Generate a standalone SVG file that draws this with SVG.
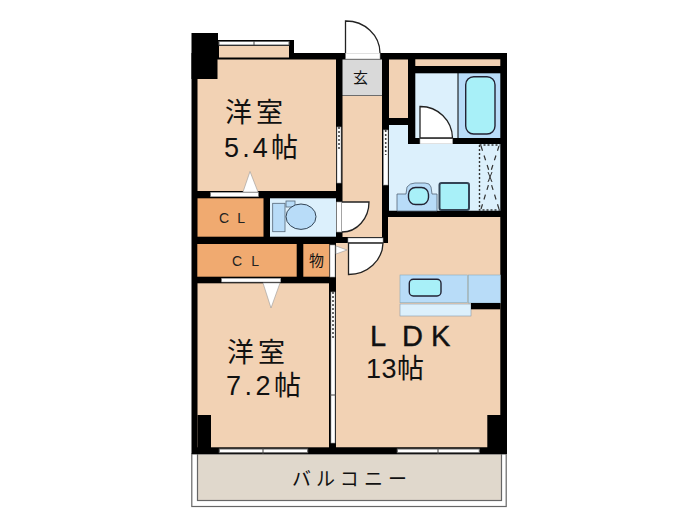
<svg xmlns="http://www.w3.org/2000/svg" width="700" height="525" viewBox="0 0 700 525">
<style>
.w{fill:#000}.p{fill:#f2d2b4}.o{fill:#f0aa70}.l{fill:#dcf0fc}.b{fill:#b8dcf8}.c{fill:#a8f0f8;stroke:#223;stroke-width:1.4}
.d{fill:#fff;stroke:#222;stroke-width:1.3}.s{fill:#fff;stroke:#999;stroke-width:.6}.win{fill:#fff;stroke:#666;stroke-width:1}
.dash{stroke:#444;stroke-width:1.6;stroke-dasharray:2 2;fill:none}
.mull{stroke:#444;stroke-width:1;fill:none}
text{font-family:"Liberation Sans","Noto Sans CJK JP",sans-serif;fill:#111}
.big{font-size:27px}.lat{font-size:29px;stroke:#111;stroke-width:.4}
.sm{font-size:14px;fill:#222}
.cjk{font-family:"Noto Sans CJK JP",sans-serif}
</style>
<rect width="700" height="525" fill="#fff"/>
<g id="balcony"><rect x="191.800" y="454" width="314.400" height="52.500" fill="#fff" stroke="#666" stroke-width="1.200"/><rect x="197.500" y="454" width="304" height="46.500" fill="#e0d8cc" stroke="#666" stroke-width="1.200"/>
<text class="cjk" x="292" y="486" font-size="19" textLength="115" lengthAdjust="spacing" fill="#333">バルコニー</text></g>
<g id="walls">
<rect class="w" x="191.500" y="53" width="315.500" height="401"/>
<rect class="w" x="191.500" y="33" width="26.500" height="46"/>
<rect class="w" x="218" y="40" width="76" height="20"/>
</g>
<g id="room1"><path class="p" d="M197.500 79H217.500V59.500H336V191H197.500Z"/><rect class="p" x="219" y="46" width="70" height="11.500"/><rect class="win" x="219" y="41.500" width="70" height="3.500"/><path class="mull" d="M254 41V45"/>
<rect class="s" x="337" y="127" width="4" height="56"/><path class="dash" d="M339 127V150"/>
<rect class="s" x="210.700" y="192.300" width="47.600" height="4.400"/><path class="s" d="M250 171.500L243 192H258Z"/>
<text class="big cjk" x="225" y="122" textLength="58">洋室</text><text class="big" x="224" y="157" textLength="74" lengthAdjust="spacing">5.4帖</text></g>
<g id="entry"><rect x="342.500" y="59.500" width="39.500" height="36" fill="#d9d9d9"/><rect class="p" x="342.500" y="96" width="39.500" height="141"/>
<text class="cjk" x="353" y="83" font-size="15">玄</text>
<rect class="s" x="345.700" y="53" width="34.300" height="6"/><path class="d" d="M345.500 53V21A34 32 0 0 1 380 53"/></g>
<g id="closet"><rect class="p" x="389" y="59.500" width="19" height="58.500"/><rect class="p" x="415.300" y="59.300" width="85" height="6.700"/></g>
<g id="bath"><rect class="l" x="415.300" y="73.300" width="42.200" height="64.700"/><rect class="b" x="458.500" y="73.300" width="41.800" height="64.700"/><rect class="c" x="465.700" y="76.700" width="29.300" height="57.300" rx="8"/>
<rect class="s" x="420" y="138.300" width="32.700" height="5.700"/><path class="d" d="M420 138V106.500A32 32 0 0 1 452.500 138Z"/></g>
<g id="wash"><path class="l" d="M389 125H408V144H500.300V210.700H389Z"/><rect class="s" x="383.500" y="130" width="4.500" height="55"/><path class="dash" d="M385.700 130V155"/>
<path d="M397 211V194H406L407 187Q410 183 415 183H425Q430 183 431 187L432 194H437V211Z" fill="#b8dcf8" stroke="#567" stroke-width=".8"/>
<rect class="c" x="408.500" y="187.500" width="20" height="17" rx="7"/>
<rect x="439.500" y="183" width="29.500" height="27" rx="2" fill="#a8f0f8" stroke="#345" stroke-width="2"/>
<path d="M479.500 145V210H500M479.500 145H500" fill="none" stroke="#333" stroke-width="1.400" stroke-dasharray="2 2"/>
<path d="M481 146L490 174M499 146L490 174M481 209L490 180M499 209L490 180" fill="none" stroke="#333" stroke-width="1.200" stroke-dasharray="5 5"/>
<path d="M488 172L492 182M492 172L488 182" stroke="#333" stroke-width="1"/></g>
<g id="cl1"><rect class="o" x="197.500" y="198.300" width="66" height="38.400"/><text class="sm" x="219" y="223" textLength="26">CL</text></g>
<g id="toilet"><rect class="l" x="270" y="198.300" width="66" height="38.400"/><rect class="b" x="272.700" y="203.300" width="12.300" height="28.400" stroke="#567" stroke-width=".8"/><rect class="b" x="286" y="201" width="9" height="6" stroke="#567" stroke-width=".8"/><ellipse class="b" cx="301" cy="216.700" rx="15" ry="12.700" stroke="#345" stroke-width="1"/>
<rect class="s" x="336.700" y="202" width="5" height="30"/><path class="d" d="M342 202H369A27 30 0 0 1 342 232"/></g>
<g id="cl2"><rect class="o" x="197.300" y="244" width="99.400" height="32.700"/><text class="sm" x="232" y="266" textLength="27">CL</text></g>
<g id="storage"><rect class="o" x="303.300" y="244" width="26" height="32.700"/><text class="cjk" x="309" y="266" font-size="15">物</text><rect class="s" x="330" y="245" width="5" height="32"/></g>
<g id="room2"><rect class="p" x="197.500" y="283.300" width="131.500" height="164"/><rect class="w" x="197.500" y="415" width="13.500" height="33"/>
<rect class="s" x="221.700" y="278.300" width="59" height="3.700"/><path class="s" d="M263 283H280L271 308Z"/>
<text class="big cjk" x="227" y="362" textLength="58">洋室</text><text class="big" x="226" y="395" textLength="75" lengthAdjust="spacing">7.2帖</text></g>
<g id="ldk"><path class="p" d="M336 243H388V217H500.300V415H487.300V447.300H336Z"/>
<rect class="s" x="348" y="238" width="35" height="5"/><path class="d" d="M348.500 243V274.500A35 32 0 0 0 383 243Z"/><path class="s" d="M336 246L347 250L336 254Z"/>
<rect class="b" x="400" y="275" width="67.300" height="27.700" stroke="#8ab" stroke-width=".6"/><rect class="b" x="468.300" y="275" width="32" height="28" stroke="#8ab" stroke-width=".6"/><rect class="l" x="400" y="304" width="71" height="12" stroke="#89a" stroke-width=".6"/><rect class="w" x="471" y="303" width="29.300" height="6.300"/><rect class="c" x="409.300" y="279.300" width="31.700" height="16.700" rx="4"/>
<rect class="s" x="331" y="292" width="4" height="151"/><path class="dash" d="M333 292V340"/><path class="mull" d="M330 395H336"/>
<text class="lat" x="370 402 431" y="346">LDK</text><text class="big" x="366" y="378" textLength="58" lengthAdjust="spacing">13帖</text></g>
<g id="windows"><rect class="win" x="219.300" y="449" width="88.400" height="3.700"/><path class="mull" d="M263 448V454"/><rect class="win" x="397.300" y="449" width="82" height="3.700"/><path class="mull" d="M438 448V454"/></g>
<g id="connectors"></g>
</svg>
